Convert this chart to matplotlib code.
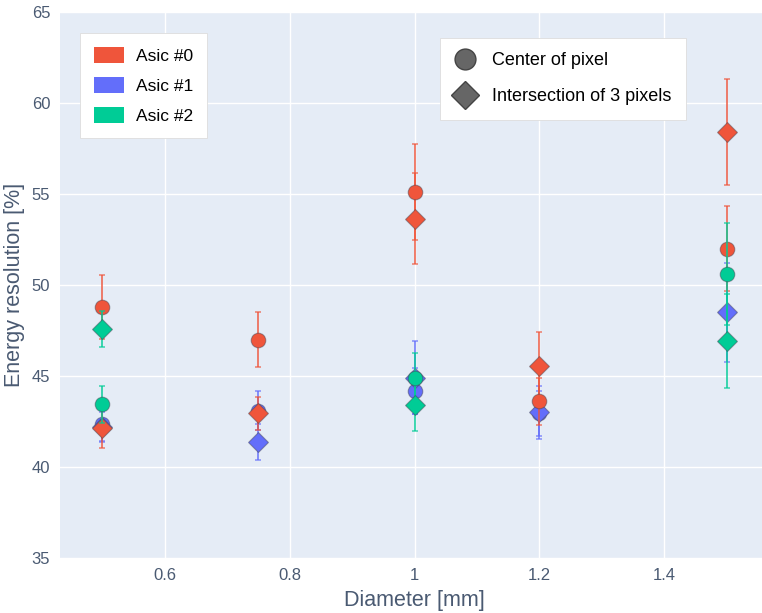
import numpy as np
import matplotlib.pyplot as plt
from matplotlib.patches import Patch
from matplotlib.lines import Line2D

# diameters [mm]
diameter = [0.5, 0.75, 1.0, 1.2, 1.5]

# energy resolution [%] per ASIC, circle = center of pixel, diamond = intersection of 3 pixels
asic0_circle     = [48.8, 47.0, 55.1, 43.6, 52.0]
asic0_circle_err = [1.75, 1.5, 2.65, 1.3, 2.35]
asic0_diam       = [42.15, 42.95, 53.65, 45.55, 58.4]
asic0_diam_err   = [1.1, 0.9, 2.5, 1.85, 2.9]

asic1_circle     = [42.35, 43.1, 44.18, 42.95, np.nan]
asic1_circle_err = [0.9, 1.05, 1.27, 1.25, np.nan]
asic1_diam       = [42.2, 41.39, 44.9, 43.0, 48.5]
asic1_diam_err   = [0.8, 1.0, 2.0, 1.45, 2.73]

asic2_circle     = [43.44, np.nan, 44.87, np.nan, 50.62]
asic2_circle_err = [1.03, np.nan, 1.37, np.nan, 2.8]
asic2_diam       = [47.57, np.nan, 43.41, np.nan, 46.92]
asic2_diam_err   = [1.0, np.nan, 1.43, np.nan, 2.6]

labels = ["Asic #0", "Asic #1", "Asic #2"]
colors = ["#EF553B", "#636EFA", "#00CC96"]
zorders = [4, 3, 5]

series = [
    (asic0_circle, asic0_circle_err, asic0_diam, asic0_diam_err),
    (asic1_circle, asic1_circle_err, asic1_diam, asic1_diam_err),
    (asic2_circle, asic2_circle_err, asic2_diam, asic2_diam_err),
]

plt.rcParams["font.family"] = ["Liberation Sans", "DejaVu Sans"]
txt = "#4a5a72"

fig = plt.figure(figsize=(7.62, 6.13), dpi=100)
ax = fig.add_axes([60 / 762, 55 / 613, 709 / 762, 546 / 613])
ax.set_facecolor("#E5ECF6")

edge = (0.25, 0.25, 0.3, 0.45)
for (c, ce, d, de), col, z in zip(series, colors, zorders):
    for y, e, m, ms in [(c, ce, "o", 10.5), (d, de, "D", 10)]:
        ax.errorbar(diameter, y, yerr=e, fmt="none", ecolor=col, alpha=0.75,
                    elinewidth=1.4, capsize=2.3, capthick=1.1, zorder=z)
        ax.plot(diameter, y, ls="none", marker=m, ms=ms, color=col,
                mec=edge, mew=0.8, zorder=z + 0.1)

ax.set_xlim(0.432, 1.568)
ax.set_ylim(35, 65)
ax.set_xticks([0.6, 0.8, 1.0, 1.2, 1.4])
ax.set_xticklabels(["0.6", "0.8", "1", "1.2", "1.4"])
ax.set_yticks([35, 40, 45, 50, 55, 60, 65])
ax.grid(color="white", lw=1)
ax.set_axisbelow(True)
for s in ax.spines.values():
    s.set_visible(False)
ax.tick_params(length=0, labelsize=12, colors=txt, pad=7)
ax.set_xlabel("Diameter [mm]", fontsize=15.5, color=txt, labelpad=5)
ax.set_ylabel("Energy resolution [%]", fontsize=15.5, color=txt, labelpad=5)

h1 = [Patch(facecolor=col, edgecolor="none") for col in colors]
leg1 = ax.legend(h1, labels, loc="upper left", bbox_to_anchor=(80 / 762, 1 - 33 / 613),
                 bbox_transform=fig.transFigure, fontsize=12.5, frameon=True, fancybox=False,
                 edgecolor="#dddddd", framealpha=1, handlelength=1.75, handleheight=1.05,
                 labelspacing=0.75, borderpad=0.8, handletextpad=0.65, borderaxespad=0)
leg1.get_frame().set_linewidth(0.6)
ax.add_artist(leg1)

h2 = [Line2D([], [], ls="none", marker="o", ms=15, color="#666666", mec="#444444", mew=1),
      Line2D([], [], ls="none", marker="D", ms=14, color="#666666", mec="#444444", mew=1)]
leg2 = ax.legend(h2, ["Center of pixel", "Intersection of 3 pixels"], loc="upper left",
                 bbox_to_anchor=(440 / 762, 1 - 38 / 613), bbox_transform=fig.transFigure,
                 fontsize=13, frameon=True, fancybox=False, edgecolor="#dddddd", framealpha=1,
                 handlelength=1.2, labelspacing=1.05, borderpad=0.8, handletextpad=0.9,
                 borderaxespad=0)
leg2.get_frame().set_linewidth(0.6)

fig.savefig("out.png", dpi=100)
